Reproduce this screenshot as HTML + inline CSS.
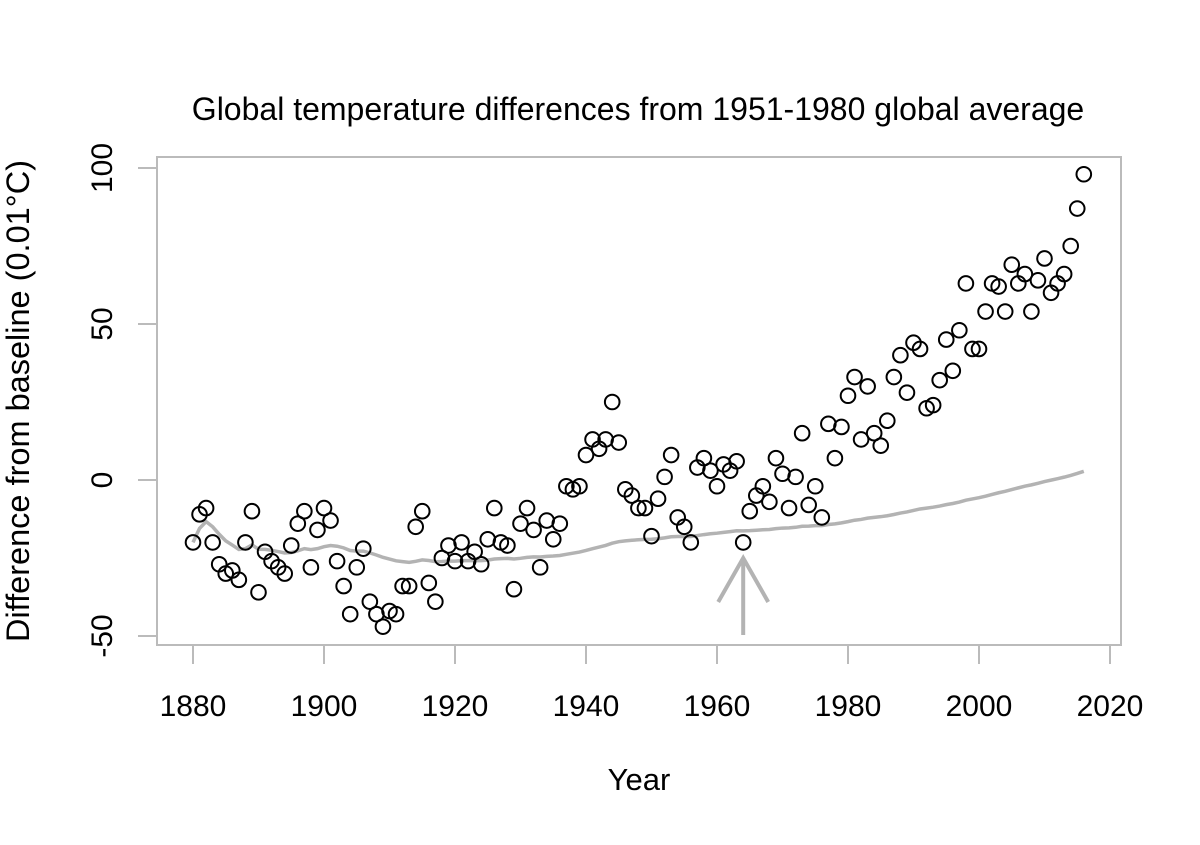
<!DOCTYPE html>
<html><head><meta charset="utf-8"><style>
body{margin:0;background:#fff}
text{font-family:"Liberation Sans",Arial,sans-serif;fill:#000}
</style></head><body>
<svg id="chart" width="1200" height="840" viewBox="0 0 1200 840" xmlns="http://www.w3.org/2000/svg">
<text x="638" y="120" font-size="32" text-anchor="middle">Global temperature differences from 1951-1980 global average</text>
<rect x="157" y="157" width="964" height="488" fill="none" stroke="#bbb" stroke-width="2"/>
<g id="xaxis"></g>
<g id="yaxis"></g>
<g id="smooth"></g>
<g id="pts"></g>
<g stroke="#b3b3b3" stroke-width="4" fill="none">
<path id="arrow" d=""/>
</g>
<text x="639" y="790" font-size="31" text-anchor="middle">Year</text>
<text transform="translate(29,401) rotate(-90)" font-size="32.5" text-anchor="middle">Difference from baseline (0.01°C)</text>
</svg>
<script>
const startYear = 1880;
const values = [-20,-11,-9,-20,-27,-30,-29,-32,-20,-10,-36,-23,-26,-28,-30,-21,-14,-10,-28,-16,-9,-13,-26,-34,-43,-28,-22,-39,-43,-47,-42,-43,-34,-34,-15,-10,-33,-39,-25,-21,-26,-20,-26,-23,-27,-19,-9,-20,-21,-35,-14,-9,-16,-28,-13,-19,-14,-2,-3,-2,8,13,10,13,25,12,-3,-5,-9,-9,-18,-6,1,8,-12,-15,-20,4,7,3,-2,5,3,6,-20,-10,-5,-2,-7,7,2,-9,1,15,-8,-2,-12,18,7,17,27,33,13,30,15,11,19,33,40,28,44,42,23,24,32,45,35,48,63,42,42,54,63,62,54,69,63,66,54,64,71,60,63,66,75,87,98];
const xTicks = [1880,1900,1920,1940,1960,1980,2000,2020];
const yTicks = [-50,0,50,100];
const arrowYear = 1964, arrowFrom = -50, arrowTo = -25;
const NS="http://www.w3.org/2000/svg";
const X = y => 193 + (y-1880)*(917/140);
const Y = v => 480 - v*3.12;
function mk(tag, attrs, parent){const e=document.createElementNS(NS,tag);for(const k in attrs)e.setAttribute(k,attrs[k]);parent.appendChild(e);return e;}
const xa=document.getElementById('xaxis'), ya=document.getElementById('yaxis');
xTicks.forEach(t=>{
  const l=mk('line',{x1:X(t),x2:X(t),y1:645,y2:664,stroke:'#bbb','stroke-width':2},xa);
  
  
  const tx=mk('text',{x:X(t),y:716,'font-size':30,'text-anchor':'middle'},xa);
  tx.textContent=t;
  
  
});
yTicks.forEach(t=>{
  const l=mk('line',{x1:138,x2:157,y1:Y(t),y2:Y(t),stroke:'#bbb','stroke-width':2},ya);
  
  
  const tx=mk('text',{transform:`translate(112,${Y(t)}) rotate(-90)`,'font-size':30,'text-anchor':'middle'},ya);
  tx.textContent=t;
  
  
});
let sum=0, d='';
values.forEach((v,i)=>{sum+=v;const m=sum/(i+1);d+=(i?'L':'M')+X(startYear+i)+','+Y(m);});
const sp=mk('path',{d:d,fill:'none',stroke:'#b3b3b3','stroke-width':3.5},document.getElementById('smooth'));


const pg=document.getElementById('pts');
values.forEach((v,i)=>{
  const c=mk('circle',{cx:X(startYear+i),cy:Y(v),r:7.3,fill:'none',stroke:'#000','stroke-width':2},pg);
  
  
});
const ax=X(arrowYear), tip=Y(arrowTo);
document.getElementById('arrow').setAttribute('d',`M${ax},${Y(arrowFrom)-1}L${ax},${tip}M${ax-25},${tip+44}L${ax},${tip}L${ax+25},${tip+44}`);
</script>
</body></html>
